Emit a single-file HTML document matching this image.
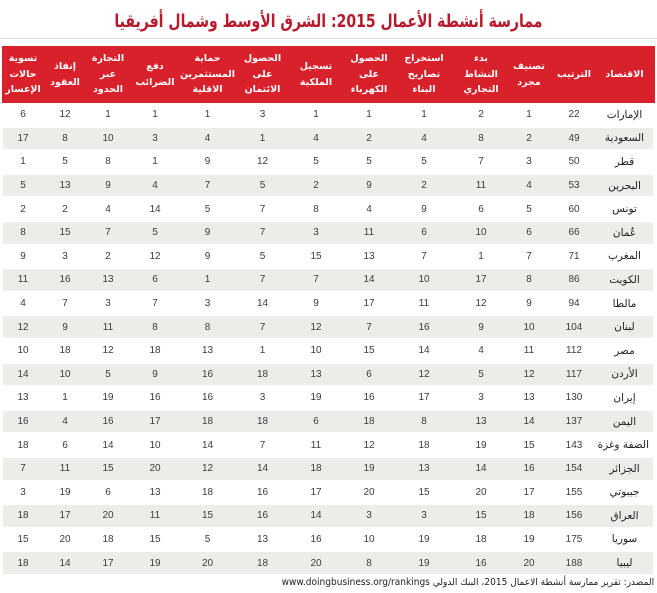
<!DOCTYPE html>
<html>
<head>
<meta charset="utf-8">
<style>
html,body{margin:0;padding:0;background:#fff;}
body{width:657px;height:593px;position:relative;overflow:hidden;font-family:"Liberation Sans","DejaVu Sans",sans-serif;}
.title{position:absolute;top:11px;left:0;width:657px;text-align:center;font-family:"DejaVu Sans",sans-serif;font-weight:bold;font-size:18px;color:#b81a2c;direction:rtl;white-space:nowrap;transform:scaleX(0.78);transform-origin:328px 0;}
.line{position:absolute;top:38px;left:0;width:657px;height:1px;background:#e2e2e2;}
.hdr{position:absolute;top:46px;left:2px;width:653px;height:57px;background:#d8212a;display:flex;align-items:center;}
.hdr span{display:block;text-align:center;color:#fff;font-family:"DejaVu Sans",sans-serif;font-weight:bold;font-size:9.5px;line-height:15.5px;white-space:nowrap;}
.body{position:absolute;top:103px;left:2px;width:653px;}
.r{display:flex;height:23.6px;align-items:center;position:relative;}
.r.g::before{content:"";position:absolute;left:1px;right:2px;top:1px;bottom:1px;background:#ecece9;z-index:0;}
.r span{position:relative;z-index:1;display:block;text-align:center;font-size:10px;color:#3c3c3c;white-space:nowrap;}
.r span:last-child{font-family:"DejaVu Sans",sans-serif;font-size:10.5px;color:#1e1e1e;direction:rtl;padding-right:6px;box-sizing:border-box;}
.hdr span:last-child{padding-right:6px;box-sizing:border-box;}
.c1{width:42px}.c2{width:42px}.c3{width:44px}.c4{width:50px}.c5{width:55px}.c6{width:55px}.c7{width:52px}.c8{width:54px}.c9{width:56px}.c10{width:58px}.c11{width:38px}.c12{width:52px}.c13{width:55px}
.r span:nth-child(1){width:42px}.r span:nth-child(2){width:42px}.r span:nth-child(3){width:44px}.r span:nth-child(4){width:50px}.r span:nth-child(5){width:55px}.r span:nth-child(6){width:55px}.r span:nth-child(7){width:52px}.r span:nth-child(8){width:54px}.r span:nth-child(9){width:56px}.r span:nth-child(10){width:58px}.r span:nth-child(11){width:38px}.r span:nth-child(12){width:52px}.r span:nth-child(13){width:55px}
.foot{position:absolute;top:577px;right:3px;font-family:"DejaVu Sans",sans-serif;font-size:9.5px;color:#222;direction:rtl;white-space:nowrap;transform:scaleX(0.95);transform-origin:100% 0;}
</style>
</head>
<body>
<div class="title">ممارسة أنشطة الأعمال 2015: الشرق الأوسط وشمال أفريقيا</div>
<div class="line"></div>
<div class="hdr">
<span class="c1">تسوية<br>حالات<br>الإعسار</span>
<span class="c2">إنفاذ<br>العقود</span>
<span class="c3">التجارة<br>عبر<br>الحدود</span>
<span class="c4">دفع<br>الضرائب</span>
<span class="c5">حماية<br>المستثمرين<br>الاقلية</span>
<span class="c6">الحصول<br>على<br>الائتمان</span>
<span class="c7">تسجيل<br>الملكية</span>
<span class="c8">الحصول<br>على<br>الكهرباء</span>
<span class="c9">استخراج<br>تصاريح<br>البناء</span>
<span class="c10">بدء<br>النشاط<br>التجاري</span>
<span class="c11">تصنيف<br>مجرد</span>
<span class="c12">الترتيب</span>
<span class="c13">الاقتصاد</span>
</div>
<div class="body">
<div class="r"><span>6</span><span>12</span><span>1</span><span>1</span><span>1</span><span>3</span><span>1</span><span>1</span><span>1</span><span>2</span><span>1</span><span>22</span><span>الإمارات</span></div>
<div class="r g"><span>17</span><span>8</span><span>10</span><span>3</span><span>4</span><span>1</span><span>4</span><span>2</span><span>4</span><span>8</span><span>2</span><span>49</span><span>السعودية</span></div>
<div class="r"><span>1</span><span>5</span><span>8</span><span>1</span><span>9</span><span>12</span><span>5</span><span>5</span><span>5</span><span>7</span><span>3</span><span>50</span><span>قطر</span></div>
<div class="r g"><span>5</span><span>13</span><span>9</span><span>4</span><span>7</span><span>5</span><span>2</span><span>9</span><span>2</span><span>11</span><span>4</span><span>53</span><span>البحرين</span></div>
<div class="r"><span>2</span><span>2</span><span>4</span><span>14</span><span>5</span><span>7</span><span>8</span><span>4</span><span>9</span><span>6</span><span>5</span><span>60</span><span>تونس</span></div>
<div class="r g"><span>8</span><span>15</span><span>7</span><span>5</span><span>9</span><span>7</span><span>3</span><span>11</span><span>6</span><span>10</span><span>6</span><span>66</span><span>عُمان</span></div>
<div class="r"><span>9</span><span>3</span><span>2</span><span>12</span><span>9</span><span>5</span><span>15</span><span>13</span><span>7</span><span>1</span><span>7</span><span>71</span><span>المغرب</span></div>
<div class="r g"><span>11</span><span>16</span><span>13</span><span>6</span><span>1</span><span>7</span><span>7</span><span>14</span><span>10</span><span>17</span><span>8</span><span>86</span><span>الكويت</span></div>
<div class="r"><span>4</span><span>7</span><span>3</span><span>7</span><span>3</span><span>14</span><span>9</span><span>17</span><span>11</span><span>12</span><span>9</span><span>94</span><span>مالطا</span></div>
<div class="r g"><span>12</span><span>9</span><span>11</span><span>8</span><span>8</span><span>7</span><span>12</span><span>7</span><span>16</span><span>9</span><span>10</span><span>104</span><span>لبنان</span></div>
<div class="r"><span>10</span><span>18</span><span>12</span><span>18</span><span>13</span><span>1</span><span>10</span><span>15</span><span>14</span><span>4</span><span>11</span><span>112</span><span>مصر</span></div>
<div class="r g"><span>14</span><span>10</span><span>5</span><span>9</span><span>16</span><span>18</span><span>13</span><span>6</span><span>12</span><span>5</span><span>12</span><span>117</span><span>الأردن</span></div>
<div class="r"><span>13</span><span>1</span><span>19</span><span>16</span><span>16</span><span>3</span><span>19</span><span>16</span><span>17</span><span>3</span><span>13</span><span>130</span><span>إيران</span></div>
<div class="r g"><span>16</span><span>4</span><span>16</span><span>17</span><span>18</span><span>18</span><span>6</span><span>18</span><span>8</span><span>13</span><span>14</span><span>137</span><span>اليمن</span></div>
<div class="r"><span>18</span><span>6</span><span>14</span><span>10</span><span>14</span><span>7</span><span>11</span><span>12</span><span>18</span><span>19</span><span>15</span><span>143</span><span>الضفة وغزة</span></div>
<div class="r g"><span>7</span><span>11</span><span>15</span><span>20</span><span>12</span><span>14</span><span>18</span><span>19</span><span>13</span><span>14</span><span>16</span><span>154</span><span>الجزائر</span></div>
<div class="r"><span>3</span><span>19</span><span>6</span><span>13</span><span>18</span><span>16</span><span>17</span><span>20</span><span>15</span><span>20</span><span>17</span><span>155</span><span>جيبوتي</span></div>
<div class="r g"><span>18</span><span>17</span><span>20</span><span>11</span><span>15</span><span>16</span><span>14</span><span>3</span><span>3</span><span>15</span><span>18</span><span>156</span><span>العراق</span></div>
<div class="r"><span>15</span><span>20</span><span>18</span><span>15</span><span>5</span><span>13</span><span>16</span><span>10</span><span>19</span><span>18</span><span>19</span><span>175</span><span>سوريا</span></div>
<div class="r g"><span>18</span><span>14</span><span>17</span><span>19</span><span>20</span><span>18</span><span>20</span><span>8</span><span>19</span><span>16</span><span>20</span><span>188</span><span>ليبيا</span></div>
</div>
<div class="foot">المصدر: تقرير ممارسة أنشطة الاعمال 2015، البنك الدولي www.doingbusiness.org/rankings</div>
</body>
</html>
